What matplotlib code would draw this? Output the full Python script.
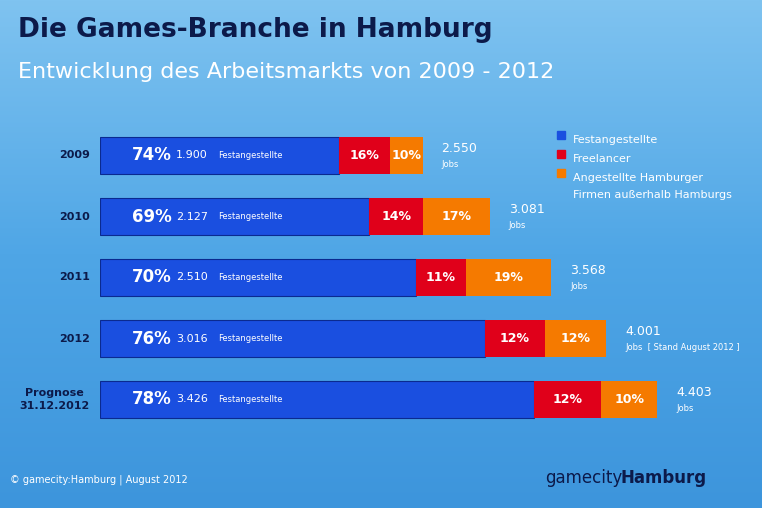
import matplotlib
matplotlib.use("Agg")
import matplotlib.pyplot as plt
import numpy as np
from matplotlib.colors import LinearSegmentedColormap

years = ["2009", "2010", "2011", "2012", "Prognose\n31.12.2012"]
totals = [2550, 3081, 3568, 4001, 4403]
fest_pct = [74, 69, 70, 76, 78]
free_pct = [16, 14, 11, 12, 12]
ang_pct = [10, 17, 19, 12, 10]
fest_abs = ["1.900", "2.127", "2.510", "3.016", "3.426"]
total_lbl = ["2.550", "3.081", "3.568", "4.001", "4.403"]
job_lbl = ["Jobs", "Jobs", "Jobs", "Jobs  [ Stand August 2012 ]", "Jobs"]

W, H = 762, 508
fig = plt.figure(figsize=(W/100, H/100), dpi=100)
bg = fig.add_axes([0, 0, 1, 1])
grad = np.linspace(0, 1, 256)[:, None]
cm = LinearSegmentedColormap.from_list("bg", ["#7fc3f0", "#4fa6e6", "#3d95dc"])
bg.imshow(grad, aspect="auto", cmap=cm, extent=[0, 1, 0, 1], origin="upper")
bg.set_axis_off()
fig.text(18/W, 1-30/H, "Die Games-Branche in Hamburg", fontsize=19, color="#0c1a4a",
         fontweight="bold", va="center")
fig.text(18/W, 1-72/H, "Entwicklung des Arbeitsmarkts von 2009 - 2012", fontsize=16, color="#ffffff",
         va="center")
fig.text(10/W, 1-480/H, "© gamecity:Hamburg | August 2012", fontsize=7, color="white", va="center")
fig.text(545/W, 1-478/H, "gamecity:", fontsize=12, color="#0c1a4a", va="center")
fig.text(620/W, 1-478/H, "Hamburg", fontsize=12, color="#0c1a4a", va="center", fontweight="bold")

scale = 0.1265  # px per job
x0 = 100
xmax = (W - x0) / scale
ax = fig.add_axes([x0/W, 1-430/H, 1-x0/W, (430-125)/H])
ax.set_xlim(0, xmax)
ax.set_ylim(len(years)-0.5, -0.5)
ax.set_axis_off()
y = np.arange(len(years))
fest = np.array(fest_pct)/100*np.array(totals)
free = np.array(free_pct)/100*np.array(totals)
ang = np.array(ang_pct)/100*np.array(totals)
h = 0.6
ax.barh(y, fest, height=h, color="#1a4fe0", edgecolor="#0a2a90", lw=0.8)
ax.barh(y, free, left=fest, height=h, color="#e0001a")
ax.barh(y, ang, left=fest+free, height=h, color="#f57a00")
for i in range(len(years)):
    ax.text(-80, y[i], years[i], ha="right", va="center", fontsize=8, fontweight="bold",
            color="#0c1a4a", linespacing=1.3, multialignment="center")
    ax.text(250, y[i], f"{fest_pct[i]}%", ha="left", va="center", fontsize=12, fontweight="bold", color="white")
    ax.text(600, y[i], fest_abs[i], ha="left", va="center", fontsize=8, color="white")
    ax.text(600+len(fest_abs[i])*55+60, y[i], "Festangestellte", ha="left", va="center", fontsize=6, color="white")
    ax.text(fest[i]+free[i]/2, y[i], f"{free_pct[i]}%", ha="center", va="center", fontsize=9, fontweight="bold", color="white")
    ax.text(fest[i]+free[i]+ang[i]/2, y[i], f"{ang_pct[i]}%", ha="center", va="center", fontsize=9, fontweight="bold", color="white")
    ax.text(totals[i]+150, y[i]-0.12, total_lbl[i], ha="left", va="center", fontsize=9, color="white")
    ax.text(totals[i]+150, y[i]+0.15, job_lbl[i], ha="left", va="center", fontsize=6, color="white")

leg = [("#1a4fe0", "Festangestellte"), ("#e0001a", "Freelancer"), ("#f57a00", "Angestellte Hamburger\nFirmen außerhalb Hamburgs")]
ly = [135, 154, 173]
for (c, t), yy in zip(leg, ly):
    fig.patches.append(plt.Rectangle((557/W, 1-(yy+4)/H), 8/W, 8/H, color=c, transform=fig.transFigure))
    fig.text(573/W, 1-yy/H, t, fontsize=8, color="white", va="top", linespacing=1.9)
fig.savefig("out.png", dpi=100)
